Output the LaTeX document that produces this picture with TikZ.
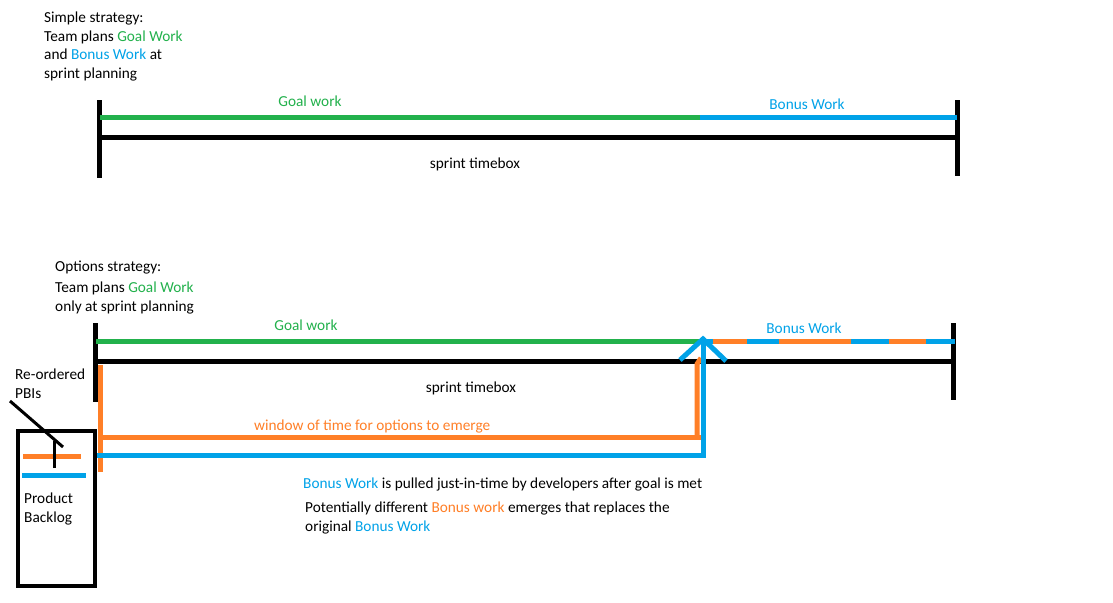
\documentclass[tikz,border=0pt]{standalone}
\usepackage{fontspec}
\setmainfont{Carlito}
\usetikzlibrary{positioning}
\definecolor{goalgreen}{RGB}{34,177,76}
\definecolor{bonusblue}{RGB}{0,162,232}
\definecolor{optorange}{RGB}{255,127,39}
\tikzset{
  lbl/.style={inner sep=0pt, font=\fontsize{15.3}{18.5}\selectfont},
  bar/.style={line width=5pt},
  pen/.style={line width=3pt},
}
\begin{document}
\begin{tikzpicture}[x=1pt,y=-1pt]
\useasboundingbox[fill=white] (0,0) rectangle (1113,602);

% simple strategy
\node[lbl,anchor=north west,align=left] (simpletxt) at (44,12) {Simple strategy:\\Team plans \textcolor{goalgreen}{Goal Work}\\and \textcolor{bonusblue}{Bonus Work} at\\sprint planning};
\draw 	(99,100) coordinate (s1) (99,178) coordinate (s2)
		(957,100) coordinate (s3) (957,176) coordinate (s4)
		(100,117) coordinate (g1) (700,117) coordinate (g2) (957,117) coordinate (g3)
		(99,137) coordinate (k1) (957,137) coordinate (k2);
\path[bar]
    (s1) edge (s2)
    (s3) edge (s4)
    (k1) edge (k2)
    (g1) edge[goalgreen] (g2)
    (g2) edge[bonusblue] (g3);
\node[lbl,text=goalgreen] (sgoal) at (310,101) {Goal work};
\node[lbl,text=bonusblue] (sbonus) at (807,104) {Bonus Work};
\node[lbl] (sbox) at (475,164) {sprint timebox};

% options strategy
\node[lbl,anchor=north west] (opttxt) at (55,261) {Options strategy:};
\node[lbl,anchor=north west,align=left] (opttxt2) at (55,282) {Team plans \textcolor{goalgreen}{Goal Work}\\only at sprint planning};
\draw 	(95,323) coordinate (o1) (95,402) coordinate (o2)
		(953,323) coordinate (o3) (953,400) coordinate (o4)
		(96,341) coordinate (h1) (700,341) coordinate (h2) (955,341) coordinate (h3)
		(713,341) coordinate (d1) (747,341) coordinate (d2)
		(779,341) coordinate (d3) (851,341) coordinate (d4)
		(889,341) coordinate (d5) (926,341) coordinate (d6)
		(97,361) coordinate (m1) (953,361) coordinate (m2);
\path[bar]
    (o1) edge (o2)
    (o3) edge (o4)
    (m1) edge (m2)
    (h1) edge[goalgreen] (h2)
    (h2) edge[bonusblue] (h3)
    (d1) edge[optorange] (d2)
    (d3) edge[optorange] (d4)
    (d5) edge[optorange] (d6);
\node[lbl,text=goalgreen] (ogoal) at (306,325) {Goal work};
\node[lbl,text=bonusblue] (obonus) at (804,328) {Bonus Work};
\node[lbl] (obox) at (471,388) {sprint timebox};

% window of time
\draw 	(100,365) coordinate (w1) (100,472) coordinate (w2)
		(100,437) coordinate (w3) (705,437) coordinate (w4)
		(697,437) coordinate (w5) (697,364) coordinate (w6) (701,358) coordinate (w7)
		(97,455) coordinate (p1) (703,455) coordinate (p2) (703,339) coordinate (p3)
		(680,360) coordinate (p4) (726,361) coordinate (p5);
\draw[bar,optorange] (w1) -- (w2);
\draw[bar,optorange] (w3) -- (w4);
\draw[bar,optorange] (w5) -- (w6) -- (w7);
\draw[bar,bonusblue] (p1) -- (p2) -- (p3);
\draw[bar,bonusblue] (p4) -- (p3) -- (p5);
\node[lbl,anchor=west,text=optorange] (window) at (254,426) {window of time for options to emerge};

% product backlog
\draw 	(18,431) coordinate (b1) (95,586) coordinate (b2)
		(23,456) coordinate (r1) (81,456) coordinate (r2)
		(22,475) coordinate (u1) (86,475) coordinate (u2)
		(54,468) coordinate (q1) (54,441) coordinate (q2)
		(10,401) coordinate (q3) (63,447) coordinate (q4);
\draw[line width=4pt] (b1) rectangle (b2);
\path[bar]
    (r1) edge[optorange] (r2)
    (u1) edge[bonusblue] (u2);
\path[pen]
    (q1) edge (q2)
    (q3) edge (q4);
\node[lbl,anchor=north west,align=left] (pbis) at (15,369) {Re-ordered\\PBIs};
\node[lbl,anchor=north west,align=left] (backlog) at (24,493) {Product\\Backlog};

% notes
\node[lbl,anchor=west] (pulled) at (303,484) {\textcolor{bonusblue}{Bonus Work} is pulled just-in-time by developers after goal is met};
\node[lbl,anchor=north west,align=left] (replace) at (305,502) {Potentially different \textcolor{optorange}{Bonus work} emerges that replaces the\\original \textcolor{bonusblue}{Bonus Work}};
\end{tikzpicture}
\end{document}
